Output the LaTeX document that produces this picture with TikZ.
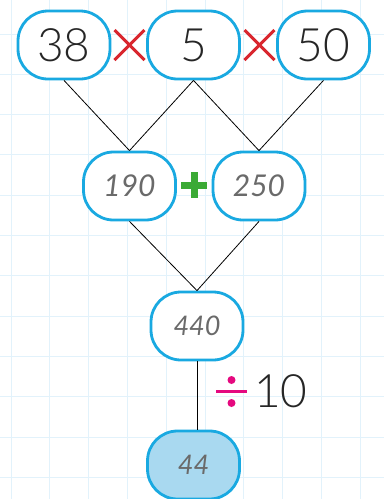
\documentclass[tikz,border=0pt]{standalone}
\usepackage{fontspec}
\setmainfont{Lato}
\newfontfamily\thinfont{Lato}[UprightFont=* Light]
\usetikzlibrary{calc}
\definecolor{gridc}{HTML}{E2F2FB}
\definecolor{boxc}{HTML}{19A9E1}
\definecolor{ansfill}{HTML}{A9D9F0}
\definecolor{timesc}{HTML}{D9262E}
\definecolor{plusc}{HTML}{3BAA35}
\definecolor{divc}{HTML}{E5097F}
\definecolor{handc}{HTML}{6A6A6A}
\begin{document}
\begin{tikzpicture}[x=1pt,y=-1pt,
  numbox/.style={draw=boxc, line width=2.8pt, rounded corners=30pt,
    minimum width=92pt, minimum height=68pt, inner sep=0pt, fill=white},
  bigtxt/.style={font=\thinfont\fontsize{46}{46}\selectfont, text=black!85},
  handtxt/.style={font=\itshape\fontsize{30}{30}\selectfont, text=handc},
  smallhand/.style={font=\itshape\fontsize{27}{27}\selectfont, text=handc},
  conn/.style={black, line width=0.8pt}]
\useasboundingbox (0,0) rectangle (384,499);
\fill[white] (0,0) rectangle (384,499);
\foreach \i in {0,...,9} \draw[gridc, line width=1pt] ({11+38.8*\i},0) -- ++(0,499);
\foreach \i in {0,...,11} \draw[gridc, line width=1pt] (0,{34+40.3*\i}) -- ++(384,0);
\coordinate (p38) at (64,45);
\coordinate (p5) at (193.5,45);
\coordinate (p50) at (323.5,45);
\coordinate (p190) at (129.5,186);
\coordinate (p250) at (259,186);
\coordinate (p440) at (197,326);
\coordinate (p44) at (193.5,465);
\node[numbox, bigtxt] (n38) at (p38) {38};
\node[numbox, bigtxt] (n5) at (p5) {5};
\node[numbox, bigtxt] (n50) at (p50) {50};
\node[numbox, handtxt] (n190) at (p190) {190};
\node[numbox, handtxt] (n250) at (p250) {250};
\node[numbox, smallhand] (n440) at (p440) {440};
\node[numbox, smallhand, fill=ansfill] (n44) at (p44) {44};
\draw[conn] (n38.south) -- (n190.north);
\draw[conn] (n5.south) -- (n190.north);
\draw[conn] (n5.south) -- (n250.north);
\draw[conn] (n50.south) -- (n250.north);
\draw[conn] (n190.south) -- (n440.north);
\draw[conn] (n250.south) -- (n440.north);
\draw[conn] (n440.south) -- (n440.south |- n44.north);
\coordinate (t1) at (129.5,45);
\coordinate (t2) at (259.5,45);
\foreach \c in {t1,t2} {
  \draw[timesc, line width=3pt] ($(\c)+(-15,-15)$) -- ($(\c)+(15,15)$);
  \draw[timesc, line width=3pt] ($(\c)+(-15,15)$) -- ($(\c)+(15,-15)$);
}
\coordinate (pl) at (194,185);
\draw[plusc, line width=7pt] ($(pl)+(-13,0)$) -- ($(pl)+(13,0)$);
\draw[plusc, line width=7pt] ($(pl)+(0,-13)$) -- ($(pl)+(0,13)$);
\coordinate (dv) at (231.5,391.5);
\draw[divc, line width=3pt] ($(dv)+(-15.5,0)$) -- ($(dv)+(15.5,0)$);
\fill[divc] ($(dv)+(0,-11.5)$) circle (4pt);
\fill[divc] ($(dv)+(0,11.5)$) circle (4pt);
\node[bigtxt, anchor=west, inner sep=0pt] (ten) at (254,391) {10};
\end{tikzpicture}
\end{document}
